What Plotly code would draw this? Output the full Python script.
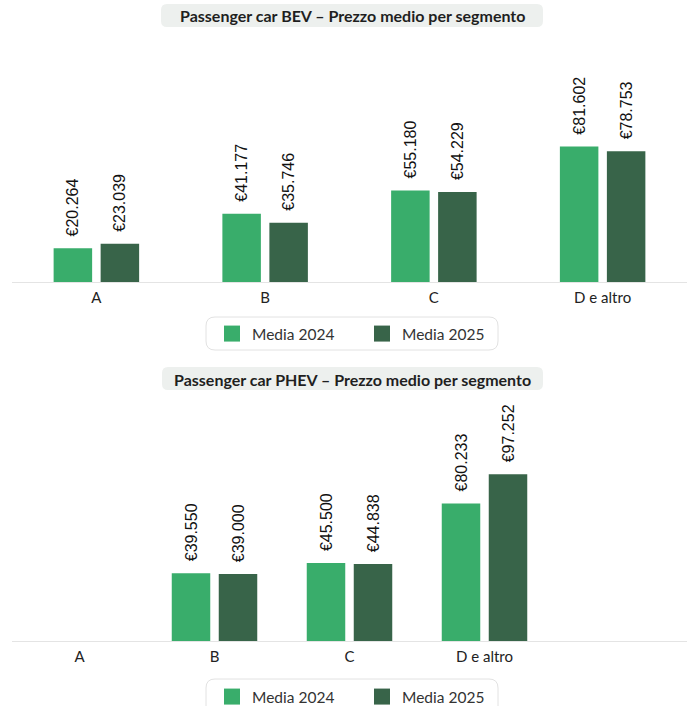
import plotly.graph_objects as go

W, H = 687, 706

# --- data -------------------------------------------------------------
bev_segments = ["A", "B", "C", "D e altro"]
bev_2024 = [20264, 41177, 55180, 81602]
bev_2025 = [23039, 35746, 54229, 78753]

phev_segments = ["A", "B", "C", "D e altro"]
phev_2024 = [None, 39550, 45500, 80233]
phev_2025 = [None, 39000, 44838, 97252]

series_names = ["Media 2024", "Media 2025"]
titles = [
    "Passenger car BEV – Prezzo medio per segmento",
    "Passenger car PHEV – Prezzo medio per segmento",
]

# --- style ------------------------------------------------------------
COL_24 = "#39ad6b"
COL_25 = "#386449"
FONT = "Lato"
LABEL_FONT = "Liberation Sans, Arial, sans-serif"
LEFT_PX = 12           # left edge of both plot areas
BAR_PX, GAP_PX = 38.5, 8.5


def fx(px):
    return px / W


def fy(py):
    return 1 - py / H


def rrect(x0, y0, x1, y1, r):
    """Rounded rectangle path, pixel input -> figure-fraction path."""
    rx, ry = r / W, r / H
    X0, X1 = fx(x0), fx(x1)
    Y0, Y1 = fy(y0), fy(y1)   # Y0 top, Y1 bottom
    return (
        f"M{X0+rx},{Y0} L{X1-rx},{Y0} Q{X1},{Y0} {X1},{Y0-ry} "
        f"L{X1},{Y1+ry} Q{X1},{Y1} {X1-rx},{Y1} "
        f"L{X0+rx},{Y1} Q{X0},{Y1} {X0},{Y1+ry} "
        f"L{X0},{Y0-ry} Q{X0},{Y0} {X0+rx},{Y0} Z"
    )


def bar_geom(n_slots):
    cat_px = (W - LEFT_PX) / n_slots
    w = BAR_PX / cat_px
    g = GAP_PX / cat_px
    return w, [-(w + g / 2), g / 2]


fig = go.Figure()

panels = [
    dict(cats=bev_segments, vals=[bev_2024, bev_2025], slots=4,
         xa="x", ya="y", legend="legend"),
    dict(cats=phev_segments, vals=[phev_2024, phev_2025], slots=5,
         xa="x2", ya="y2", legend="legend2"),
]

for p in panels:
    w, offs = bar_geom(p["slots"])
    for vals, name, col, off in zip(p["vals"], series_names, [COL_24, COL_25], offs):
        fig.add_trace(go.Bar(
            x=p["cats"], y=vals, name=name,
            marker=dict(color=col, line=dict(width=0)),
            width=w, offset=off,
            texttemplate="\u00a0\u00a0€%{y:,.0f}",
            textposition="outside", textangle=-90,
            textfont=dict(family=LABEL_FONT, size=16, color="#111111"),
            constraintext="none", cliponaxis=False,
            xaxis=p["xa"], yaxis=p["ya"], showlegend=False,
            hoverinfo="skip",
        ))
        # legend entry with a larger square swatch
        fig.add_trace(go.Scatter(
            x=[None], y=[None], mode="markers", name=name,
            marker=dict(symbol="square", size=16, color=col),
            xaxis=p["xa"], yaxis=p["ya"], legend=p["legend"],
            showlegend=True, hoverinfo="skip",
        ))

xdom = [fx(LEFT_PX), 1]
axis_x = dict(
    type="category", showgrid=False, zeroline=False,
    showline=True, linecolor="#e4e4e4", linewidth=1,
    ticks="", ticklabelstandoff=2,
    tickfont=dict(family=FONT, size=15, color="#222"),
    fixedrange=True,
)
axis_y = dict(visible=False, showgrid=False, zeroline=False, fixedrange=True)

shapes = [
    dict(type="path", path=rrect(161, 4, 543, 27, 6), xref="paper", yref="paper",
         fillcolor="#edf0ee", line=dict(width=0), layer="below"),
    dict(type="path", path=rrect(162, 367, 543, 390, 6), xref="paper", yref="paper",
         fillcolor="#edf0ee", line=dict(width=0), layer="below"),
    dict(type="path", path=rrect(206, 317, 498, 350, 9), xref="paper", yref="paper",
         fillcolor="white", line=dict(color="#e2e2e2", width=1), layer="below"),
    dict(type="path", path=rrect(206, 679, 498, 715, 9), xref="paper", yref="paper",
         fillcolor="white", line=dict(color="#e2e2e2", width=1), layer="below"),
]

annotations = [
    dict(text=f"<b>{titles[0]}</b>", x=fx(352), y=fy(16), xref="paper", yref="paper",
         showarrow=False, xanchor="center", yanchor="middle",
         font=dict(family=FONT, size=16, color="#1f1f1f")),
    dict(text=f"<b>{titles[1]}</b>", x=fx(352), y=fy(379), xref="paper", yref="paper",
         showarrow=False, xanchor="center", yanchor="middle",
         font=dict(family=FONT, size=16, color="#1f1f1f")),
]

legend_style = dict(
    orientation="h", xanchor="center", yanchor="middle",
    bgcolor="rgba(0,0,0,0)", borderwidth=0,
    font=dict(family=FONT, size=15.5, color="#333"),
    itemclick=False, itemdoubleclick=False,
    entrywidth=105, entrywidthmode="pixels",
)

fig.update_layout(
    width=W, height=H,
    margin=dict(l=0, r=0, t=0, b=0, autoexpand=False),
    paper_bgcolor="white", plot_bgcolor="white",
    separators=",.",
    barmode="overlay",
    xaxis=dict(axis_x, domain=xdom, anchor="y", range=[-0.5, 3.5]),
    yaxis=dict(axis_y, domain=[fy(282), fy(40)], anchor="x", range=[0, 242 / 1.66e-3]),
    xaxis2=dict(axis_x, domain=xdom, anchor="y2", range=[-0.5, 4.5]),
    yaxis2=dict(axis_y, domain=[fy(641), fy(395)], anchor="x2", range=[0, 246 / 1.715e-3]),
    legend=dict(legend_style, x=fx(362), y=fy(334)),
    legend2=dict(legend_style, x=fx(362), y=fy(697)),
    shapes=shapes,
    annotations=annotations,
    showlegend=True,
)

fig.write_html("out.html")
